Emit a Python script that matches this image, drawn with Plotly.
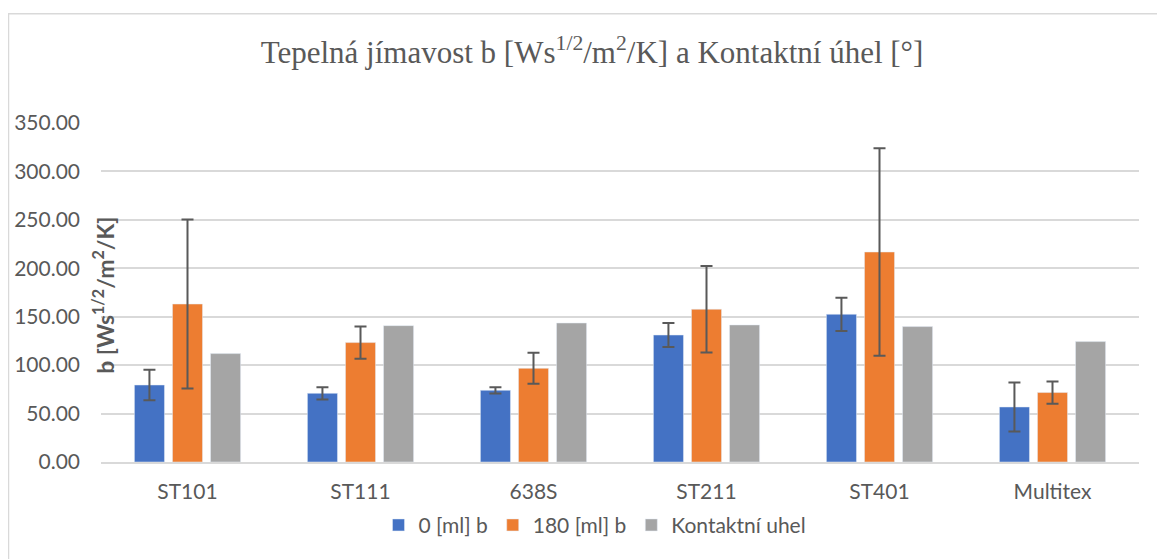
import plotly.graph_objects as go

categories = ["ST101", "ST111", "638S", "ST211", "ST401", "Multitex"]
b0_values = [79.5, 70.9, 74.0, 131.1, 152.5, 56.8]
b0_errors = [15.7, 6.3, 3.3, 12.3, 17.2, 25.2]
b180_values = [163.1, 123.3, 96.7, 157.7, 216.8, 71.7]
b180_errors = [87.3, 16.7, 16.0, 44.6, 107.2, 11.5]
contact_angle = [111.9, 140.8, 143.5, 141.5, 139.8, 124.3]
y_ticks = [0, 50, 100, 150, 200, 250, 300, 350]

# page coordinates (the page body adds an 8px offset)
OFF = 8
W, H = 1165, 559
L, R, T, B = 101, 1139, 122.7, 461.7
pw, ph = R - L, B - T
FW, FH = W - OFF, H - OFF

def px(x):
    return (x - L) / pw

def py(y):
    return (B - y) / ph

txt = "#595959"
font_main = "Lato, 'Open Sans', sans-serif"
err_style = dict(type="data", visible=True, color="#595959", thickness=2, width=6)

fig = go.Figure()
fig.add_trace(go.Bar(name="0 [ml] b", x=categories, y=b0_values,
                     error_y=dict(array=b0_errors, **err_style),
                     marker=dict(color="#4472C4")))
fig.add_trace(go.Bar(name="180 [ml] b", x=categories, y=b180_values,
                     error_y=dict(array=b180_errors, **err_style),
                     marker=dict(color="#ED7D31")))
fig.add_trace(go.Bar(name="Kontaktní uhel", x=categories, y=contact_angle,
                     marker=dict(color="#A5A5A5")))

fig.update_layout(
    width=FW, height=FH,
    margin=dict(l=L - OFF, r=W - R, t=T - OFF, b=H - B, pad=0, autoexpand=False),
    paper_bgcolor="white", plot_bgcolor="white",
    barmode="group", bargap=0.34, bargroupgap=0.21,
    font=dict(family=font_main, color=txt, size=21),
    title=dict(
        text="Tepelná jímavost b [Ws<sup>1/2</sup>/m<sup>2</sup>/K] a Kontaktní úhel [°]",
        font=dict(family="'Liberation Serif', 'Times New Roman', serif", size=31, color=txt),
        x=(592 - OFF) / FW, xanchor="center", xref="container",
        y=1 - (52 - OFF) / FH, yanchor="middle", yref="container"),
    legend=dict(orientation="h", x=px(595), xanchor="center", y=py(525), yanchor="middle",
                font=dict(size=21, color=txt), itemwidth=30, traceorder="normal"),
    xaxis=dict(showline=True, linecolor="#D9D9D9", linewidth=1.5, ticks="",
               tickfont=dict(size=21, color=txt), ticklabelstandoff=10, automargin=False),
    yaxis=dict(range=[0, 350], tickvals=y_ticks, tickformat=".2f",
               showgrid=True, gridcolor="#D9D9D9", gridwidth=1.5,
               zeroline=False, showline=False, ticks="",
               tickfont=dict(size=21, color=txt), ticklabelstandoff=20, automargin=False),
    shapes=[dict(type="rect", xref="paper", yref="paper",
                 x0=px(8.5), x1=px(1180), y0=py(580), y1=py(13.5),
                 line=dict(color="#D9D9D9", width=1.5), fillcolor="rgba(0,0,0,0)", layer="below")],
    annotations=[dict(text="<b>b [Ws<sup>1/2</sup>/m<sup>2</sup>/K]</b>", xref="paper", yref="paper",
                      x=px(103.5), y=py(295), xanchor="center", yanchor="middle",
                      textangle=-90, showarrow=False,
                      font=dict(size=23, color=txt, family=font_main))],
)

fig.write_html("out.html")
